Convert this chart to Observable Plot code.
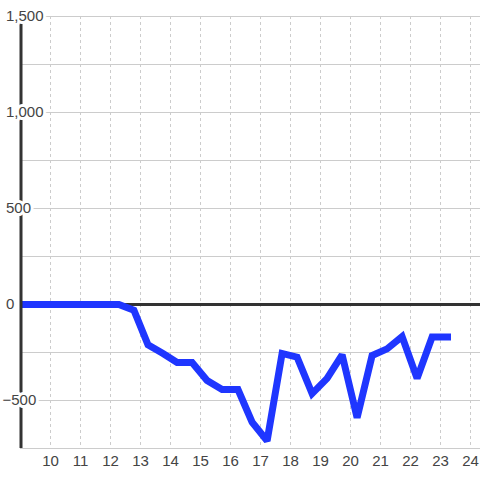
<!DOCTYPE html>
<html>
<head>
<meta charset="utf-8">
<script src="https://cdn.jsdelivr.net/npm/d3@7"></script>
<script src="https://cdn.jsdelivr.net/npm/@observablehq/plot@0.6"></script>
<style>
  html, body { margin: 0; padding: 0; background: #fff; }
  #chart svg { display: block; }
</style>
</head>
<body>
<div id="chart"></div>
<script>
const xs = [9, 12.28, 12.78, 13.25, 13.75, 14.22, 14.72, 15.22, 15.72, 16.25, 16.72, 17.22, 17.72, 18.22, 18.72, 19.22, 19.72, 20.22, 20.72, 21.22, 21.72, 22.22, 22.72, 23.35];
const values = [0, 0, -30, -210, -255, -302, -302, -396, -443, -443, -613, -710, -255, -274, -464, -385, -262, -590, -266, -231, -167, -385, -169, -169];
const xTicks = [10, 11, 12, 13, 14, 15, 16, 17, 18, 19, 20, 21, 22, 23, 24];
const yTicks = [-500, 0, 500, 1000, 1500];
const yGrid = [-750, -500, -250, 0, 250, 500, 750, 1000, 1250, 1500];

const data = xs.map((x, i) => ({x, y: values[i]}));
const fmt = d3.format(",");
const labelStyle = {fill: "#444", stroke: "#fff", strokeWidth: 6, paintOrder: "stroke", fontSize: 15, textAnchor: "start"};

const chart = Plot.plot({
  width: 480,
  height: 480,
  marginLeft: 20,
  marginRight: 0,
  marginTop: 16,
  marginBottom: 32,
  x: {domain: [9, 24.3333], axis: null},
  y: {domain: [-750, 1500], axis: null},
  style: {fontFamily: "'Liberation Sans', Arial, sans-serif", background: "#fff"},
  marks: [
    Plot.ruleY(yGrid, {stroke: "#cccccc", strokeWidth: 1}),
    Plot.ruleX(xTicks, {stroke: "#cccccc", strokeWidth: 1, strokeDasharray: "3,3"}),
    Plot.ruleY([0], {stroke: "#333333", strokeWidth: 3}),
    Plot.line(data, {x: "x", y: "y", stroke: "#1f36ff", strokeWidth: 7, strokeLinecap: "butt", strokeLinejoin: "miter", strokeMiterlimit: 2}),
    Plot.ruleX([9], {stroke: "#333333", strokeWidth: 3, dx: 0.5}),
    Plot.text(yTicks.filter(d => d >= 0), {x: 9, y: d => d, text: d => fmt(d), dx: -14.5, ...labelStyle}),
    Plot.text(yTicks.filter(d => d < 0), {x: 9, y: d => d, text: d => fmt(d), dx: -18, ...labelStyle}),
    Plot.text(xTicks, {x: d => d, y: -750, text: d => String(d), dy: 13, fill: "#444", fontSize: 15})
  ]
});
document.getElementById("chart").appendChild(chart);
</script>
</body>
</html>
